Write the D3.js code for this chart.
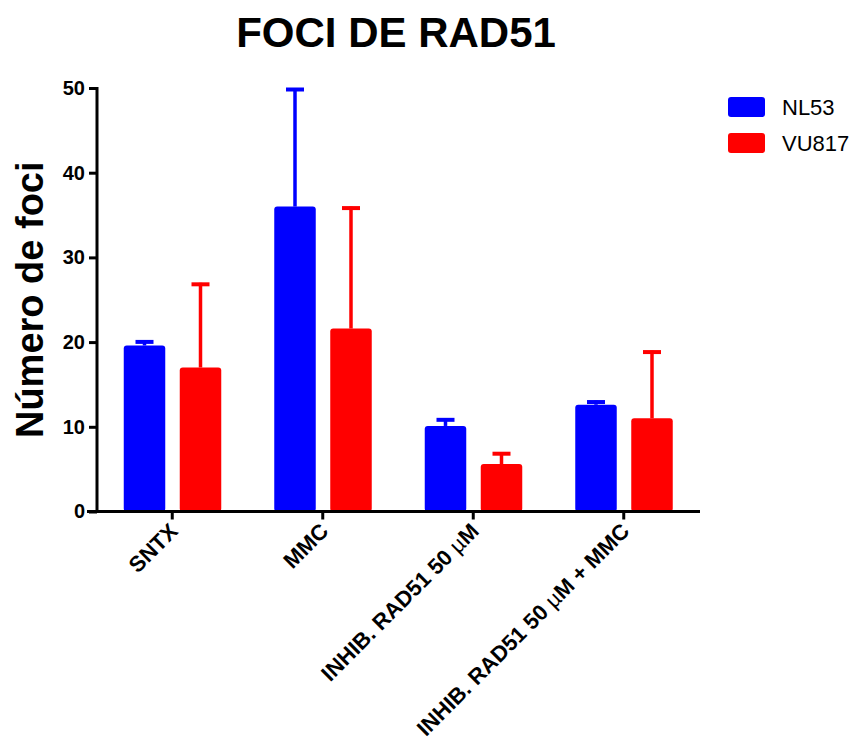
<!DOCTYPE html>
<html>
<head>
<meta charset="utf-8">
<script src="https://cdn.jsdelivr.net/npm/d3@7"></script>
<style>
  html, body { margin: 0; padding: 0; background: #fff; }
  svg { display: block; font-family: Arial, "Liberation Sans", sans-serif; }
</style>
</head>
<body>
<svg id="chart" width="857" height="749"></svg>
<script>
// Treatment groups and the two cell lines
const categories = ["SNTX", "MMC", "INHIB. RAD51 50 µM", "INHIB. RAD51 50 µM + MMC"];
const seriesNames = ["NL53", "VU817"];
const seriesColors = ["#0000ff", "#ff0000"];

// Mean number of foci per group
const nl53Means = [19.6, 36, 10.1, 12.6];
const vu817Means = [17, 21.6, 5.6, 11];

// Upper error (SD) for each bar
const nl53Errors = [0.6, 14, 0.9, 0.5];
const vu817Errors = [10, 14.4, 1.4, 8];

const yTicks = [0, 10, 20, 30, 40, 50];

const svg = d3.select("#chart");

const plotLeft = 97, plotRight = 699, plotTop = 88, plotBottom = 511.5;

const x = d3.scaleBand().domain(categories).range([plotLeft, plotRight]).padding(0);
const y = d3.scaleLinear().domain([0, 50]).range([plotBottom, plotTop]);

const barW = 41.5;
const offsets = [-48.5, 7.5];

const series = [
  { name: seriesNames[0], color: seriesColors[0], means: nl53Means, errs: nl53Errors },
  { name: seriesNames[1], color: seriesColors[1], means: vu817Means, errs: vu817Errors }
];

// Error bars (upper only), drawn beneath bars
series.forEach((s, si) => {
  const g = svg.append("g");
  categories.forEach((c, i) => {
    const cx = x(c) + x.bandwidth() / 2 + offsets[si] + barW / 2;
    const yTop = y(s.means[i] + s.errs[i]);
    g.append("line")
      .attr("x1", cx).attr("x2", cx)
      .attr("y1", y(s.means[i])).attr("y2", yTop)
      .attr("stroke", s.color).attr("stroke-width", 3.5);
    g.append("line")
      .attr("x1", cx - 9).attr("x2", cx + 9)
      .attr("y1", yTop + 1.5).attr("y2", yTop + 1.5)
      .attr("stroke", s.color).attr("stroke-width", 4);
  });
});

// Bars
series.forEach((s, si) => {
  svg.append("g").selectAll("rect")
    .data(categories)
    .join("rect")
    .attr("x", (c) => x(c) + x.bandwidth() / 2 + offsets[si])
    .attr("width", barW)
    .attr("y", (c, i) => y(s.means[i]))
    .attr("height", (c, i) => y(0) - y(s.means[i]))
    .attr("rx", 3)
    .attr("fill", s.color);
});

// Y axis
const yAxis = svg.append("g")
  .attr("transform", `translate(${plotLeft},0)`)
  .call(d3.axisLeft(y).tickValues(yTicks).tickSize(8).tickPadding(4).tickFormat(d3.format("d")));
yAxis.select(".domain").attr("stroke", "#000").attr("stroke-width", 3).attr("d", `M0,${plotTop - 1}V${plotBottom}`);
yAxis.selectAll(".tick line").attr("stroke", "#000").attr("stroke-width", 3);
yAxis.selectAll(".tick text")
  .attr("font-size", 20).attr("font-weight", "bold").attr("fill", "#000")
  .attr("font-family", "Arial, 'Liberation Sans', sans-serif");

// X axis
const xAxis = svg.append("g")
  .attr("transform", `translate(0,${plotBottom})`)
  .call(d3.axisBottom(x).tickSize(8).tickFormat(""));
xAxis.select(".domain").attr("stroke", "#000").attr("stroke-width", 3).attr("d", `M${plotLeft - 10},0H${plotRight + 1}`);
xAxis.selectAll(".tick line").attr("stroke", "#000").attr("stroke-width", 3);

// Rotated category labels; the micro sign is set in a lighter weight
const labelG = svg.append("g");
categories.forEach((c) => {
  const tx = x(c) + x.bandwidth() / 2;
  const t = labelG.append("text")
    .attr("transform", `translate(${tx + 7},${plotBottom + 21}) rotate(-45)`)
    .attr("text-anchor", "end")
    .attr("font-size", 22)
    .attr("font-weight", "bold")
    .attr("fill", "#000");
  const parts = c.split("µ");
  parts.forEach((p, k) => {
    if (k > 0) t.append("tspan").attr("font-weight", "normal").text("µ");
    t.append("tspan").text(p);
  });
});

// Y axis title
svg.append("text")
  .attr("transform", `translate(43,${(plotTop + plotBottom) / 2}) rotate(-90)`)
  .attr("text-anchor", "middle")
  .attr("font-size", 38)
  .attr("font-weight", "bold")
  .attr("fill", "#000")
  .text("Número de foci");

// Title
svg.append("text")
  .attr("x", 396).attr("y", 47)
  .attr("text-anchor", "middle")
  .attr("font-size", 42)
  .attr("font-weight", "bold")
  .attr("fill", "#000")
  .text("FOCI DE RAD51");

// Legend
const legend = svg.append("g");
series.forEach((s, i) => {
  const ly = 97 + i * 36;
  legend.append("rect")
    .attr("x", 728).attr("y", ly)
    .attr("width", 37).attr("height", 20)
    .attr("rx", 3)
    .attr("fill", s.color);
  legend.append("text")
    .attr("x", 782).attr("y", ly + 18)
    .attr("font-size", 22)
    .attr("fill", "#000")
    .text(s.name);
});
</script>
</body>
</html>
